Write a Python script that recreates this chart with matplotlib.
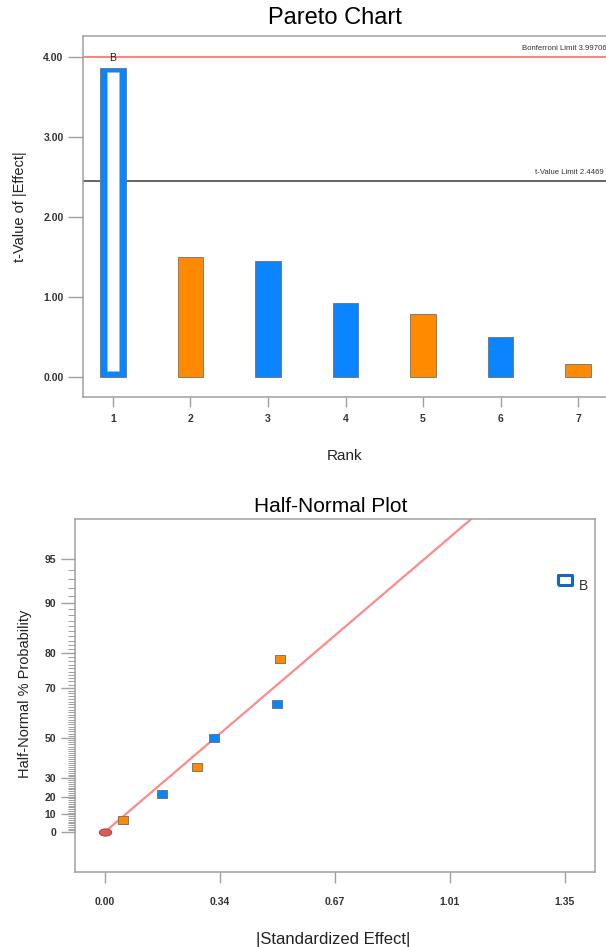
"""Pareto chart and half-normal plot of effects."""
from statistics import NormalDist

import numpy as np
import matplotlib
matplotlib.use('Agg')
import matplotlib.pyplot as plt
from matplotlib.ticker import FixedLocator, FixedFormatter

plt.rcParams.update({
    'font.family': ['Liberation Sans', 'DejaVu Sans'],
    'axes.edgecolor': '#a0a0a0',
    'axes.linewidth': 1.1,
    'xtick.color': '#a0a0a0',
    'ytick.color': '#a0a0a0',
    'xtick.labelcolor': '#333333',
    'ytick.labelcolor': '#333333',
})

BLUE = '#0a84ff'
ORANGE = '#ff8a00'

# ---------- data ----------
ranks = [1, 2, 3, 4, 5, 6, 7]
t_values = [3.86, 1.49, 1.45, 0.925, 0.78, 0.49, 0.16]
bar_sign = ['pos', 'neg', 'pos', 'pos', 'neg', 'pos', 'neg']
bonferroni_limit = 3.99706
t_limit = 2.4469

effects = [0.053, 0.168, 0.269, 0.319, 0.505, 0.515, 1.349]
probs = [7.1, 21.4, 35.7, 50.0, 64.3, 78.6, 92.9]
point_sign = ['neg', 'pos', 'neg', 'pos', 'pos', 'neg', 'pos']
fit_slope = 2.09          # z-score per unit |effect|
prob_ticks = [0, 10, 20, 30, 50, 70, 80, 90, 95]

sign_color = {'pos': BLUE, 'neg': ORANGE}


def hn(p):
    """half-normal quantile for a percent probability"""
    return NormalDist().inv_cdf(0.5 + p / 200.0)


W, H = 606, 947
fig = plt.figure(figsize=(W / 100, H / 100), dpi=100)


def box(l, t, r, b):
    return [l / W, 1 - b / H, (r - l) / W, (b - t) / H]


# ---------- Pareto chart ----------
ax = fig.add_axes(box(83, 36, 608, 397))
bw = 0.335
cols = [sign_color[s] for s in bar_sign]
ax.bar(ranks, t_values, bw, color=cols, edgecolor='#707070', linewidth=0.6, zorder=2)
# term B is drawn hollow
ax.bar(ranks[0], t_values[0] - 0.125, bw * 0.46, bottom=0.075, color='white',
       edgecolor='#9fb8d0', linewidth=0.4, zorder=3)
ax.text(ranks[0], t_values[0] + 0.12, 'B', ha='center', va='center', fontsize=7.5,
        color='#222222')

ax.axhline(bonferroni_limit, color='#ff6b6b', lw=1.2, zorder=1)
ax.axhline(t_limit, color='#4a4a4a', lw=1.2, zorder=1)
ax.text(0.998, bonferroni_limit + 0.06, f'Bonferroni Limit {bonferroni_limit:.5f}',
        transform=ax.get_yaxis_transform(), ha='right', va='bottom', fontsize=5.6,
        color='#333333')
ax.text(0.992, t_limit + 0.06, f't-Value Limit {t_limit:.4f}',
        transform=ax.get_yaxis_transform(), ha='right', va='bottom', fontsize=5.6,
        color='#333333')

ax.set_xlim(0.613, 7.387)
ax.set_ylim(-0.255, 4.26)
ax.set_xticks(ranks)
ax.set_yticks([0, 1, 2, 3, 4])
ax.yaxis.set_major_formatter(plt.FormatStrFormatter('%.2f'))
ax.tick_params(axis='y', length=10.5, width=1.0, labelsize=7.5, pad=3.5)
ax.tick_params(axis='x', length=7.5, width=1.0, labelsize=7.5, pad=5)
for lab in ax.get_xticklabels() + ax.get_yticklabels():
    lab.set_fontweight('bold')

fig.text(335 / W, 1 - 18 / H, 'Pareto Chart', ha='center', va='center', fontsize=17)
fig.text(20 / W, 1 - 207 / H, 't-Value of |Effect|', rotation=90, ha='center',
         va='center', fontsize=10.5, color='#222222')
fig.text(345 / W, 1 - 456 / H, 'Rank', ha='center', va='center', fontsize=11,
         color='#222222')

# ---------- Half-normal plot ----------
ax2 = fig.add_axes(box(75, 519, 595, 872))
rect = [(-1, -0.68), (1, -0.68), (1, 0.68), (-1, 0.68), (-1, -0.68)]

xs = np.array([0, 1.6])
ax2.plot(xs, fit_slope * xs, color='#ff8a8a', lw=1.6, zorder=1)

ax2.plot(0, 0, 'o', marker=[(np.cos(a), 0.58 * np.sin(a)) for a in np.linspace(0, 2 * np.pi, 40)],
         ms=9, mfc='#e05a5a', mec='#9a3a3a', mew=0.6, zorder=3)
for e, p, s in zip(effects[:-1], probs[:-1], point_sign[:-1]):
    ax2.plot(e, hn(p), linestyle='none', marker=rect, ms=7.5, mfc=sign_color[s],
             mec='#6a6a6a', mew=0.6, zorder=3)
ax2.plot(effects[-1], hn(probs[-1]), linestyle='none', marker=rect, ms=10,
         mfc='white', mec='#1565c8', mew=2.2, zorder=3)
ax2.text(effects[-1] + 0.055, hn(probs[-1]) - 0.04, 'B', ha='center', va='center',
         fontsize=10, color='#333333')

ax2.set_xlim(-0.0875, 1.4375)
ax2.set_ylim(-0.287, 2.246)
xt = np.linspace(0, effects[-1], 5)
ax2.set_xticks(xt)
ax2.xaxis.set_major_formatter(plt.FormatStrFormatter('%.2f'))
ax2.yaxis.set_major_locator(FixedLocator([hn(p) for p in prob_ticks]))
ax2.yaxis.set_major_formatter(FixedFormatter([str(p) for p in prob_ticks]))
minor_p = [p for p in range(1, 95) if p not in prob_ticks]
ax2.yaxis.set_minor_locator(FixedLocator([hn(p) for p in minor_p]))
ax2.tick_params(axis='y', which='major', length=10, width=1.0, labelsize=7.5, pad=3.5)
ax2.tick_params(axis='y', which='minor', length=5, width=0.7)
ax2.tick_params(axis='x', length=8, width=1.0, labelsize=7.5, pad=10)
for lab in ax2.get_xticklabels() + ax2.get_yticklabels():
    lab.set_fontweight('bold')

fig.text(331 / W, 1 - 506 / H, 'Half-Normal Plot', ha='center', va='center', fontsize=15)
fig.text(25 / W, 1 - 694 / H, 'Half-Normal % Probability', rotation=90, ha='center',
         va='center', fontsize=10.5, color='#222222')
fig.text(333 / W, 1 - 939 / H, '|Standardized Effect|', ha='center', va='center',
         fontsize=12, color='#222222')

fig.savefig('out.png', dpi=100)
